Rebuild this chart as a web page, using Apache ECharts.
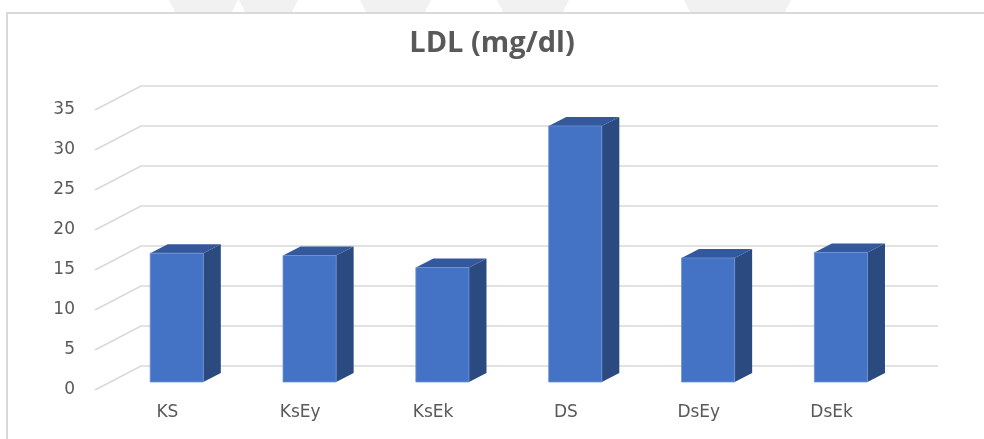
<!DOCTYPE html>
<html>
<head>
<meta charset="utf-8">
<script src="https://cdn.jsdelivr.net/npm/echarts@6/dist/echarts.min.js"></script>
<style>
  html, body { margin: 0; padding: 0; background: #ffffff; }
  #chart { width: 984px; height: 439px; }
</style>
</head>
<body>
<div id="chart"></div>
<script>
// LDL (mg/dl) by group
const categories = ['KS', 'KsEy', 'KsEk', 'DS', 'DsEy', 'DsEk'];
const ldlValues = [16.1, 15.8, 14.3, 32.0, 15.5, 16.2];
const yTicks = [0, 5, 10, 15, 20, 25, 30, 35];

// Pseudo-3D geometry (pixels): floor depth vector and bar placement within it
const DEPTH = [46, -24];          // front plane -> back wall
const BAR_PLANE = 1 / 3;          // bar front faces sit a third of the way back
const BAR_DEPTH = [17.5, -9];     // thickness of each bar
const BAR_RATIO = 0.4;            // bar width relative to category band

const COLORS = {
  front: '#4472c4',
  top: '#34589c',
  side: '#2a4a80',
  edge: '#6d92d6',
  grid: '#d9d9d9',
  text: '#595959'
};

function renderWall(params, api) {
  const cs = params.coordSys;
  const y = api.coord([0, api.value(1)])[1];
  const x0 = cs.x;
  const x1 = cs.x + cs.width;
  return {
    type: 'polyline',
    shape: {
      points: [
        [x0, y],
        [x0 + DEPTH[0], y + DEPTH[1]],
        [x1 + DEPTH[0], y + DEPTH[1]]
      ]
    },
    style: { stroke: COLORS.grid, lineWidth: 1.6, fill: null }
  };
}

function renderBar(params, api) {
  const idx = api.value(0);
  const val = api.value(1);
  const base = api.coord([idx, 0]);
  const top = api.coord([idx, val]);
  const band = api.size([1, 0])[0];
  const w = band * BAR_RATIO;
  const ox = DEPTH[0] * BAR_PLANE;
  const oy = DEPTH[1] * BAR_PLANE;
  const xl = base[0] + ox - w / 2;
  const xr = base[0] + ox + w / 2;
  const yb = base[1] + oy;
  const yt = top[1] + oy;
  const dx = BAR_DEPTH[0], dy = BAR_DEPTH[1];
  return {
    type: 'group',
    children: [
      {
        type: 'polygon',
        shape: { points: [[xr, yb], [xr + dx, yb + dy], [xr + dx, yt + dy], [xr, yt]] },
        style: { fill: COLORS.side }
      },
      {
        type: 'polygon',
        shape: { points: [[xl, yt], [xr, yt], [xr + dx, yt + dy], [xl + dx, yt + dy]] },
        style: { fill: COLORS.top }
      },
      {
        type: 'rect',
        shape: { x: xl, y: yt, width: xr - xl, height: yb - yt },
        style: { fill: COLORS.front, stroke: COLORS.edge, lineWidth: 0.8 }
      }
    ]
  };
}

// Faint shapes along the upper edge of the page
const topShapes = [[175, 232], [245, 292], [366, 425], [503, 563], [690, 785]].map(function (s) {
  return {
    type: 'polygon',
    shape: { points: [[s[0] - 6, 0], [s[1] + 6, 0], [s[1], 12], [s[0], 12]] },
    style: { fill: '#f1f1f1' },
    silent: true,
    z: 0
  };
});

const chart = echarts.init(document.getElementById('chart'), null, { renderer: 'canvas' });

chart.setOption({
  backgroundColor: '#ffffff',
  animation: false,
  title: {
    text: 'LDL (mg/dl)',
    left: 'center',
    top: 24,
    textStyle: {
      fontFamily: 'Open Sans',
      fontSize: 29,
      fontWeight: 'bold',
      color: COLORS.text
    }
  },
  graphic: topShapes.concat([
    {
      type: 'rect',
      shape: { x: 7, y: 13, width: 1000, height: 460 },
      style: { fill: null, stroke: '#d9d9d9', lineWidth: 2 },
      silent: true,
      z: 1
    }
  ]),
  grid: { left: 95, right: 92, top: 110, bottom: 49 },
  xAxis: {
    type: 'category',
    data: categories,
    axisLine: { show: false },
    axisTick: { show: false },
    axisLabel: {
      color: COLORS.text,
      fontFamily: 'DejaVu Sans',
      fontSize: 17,
      margin: 14,
      padding: [0, 0, 0, 12]
    }
  },
  yAxis: {
    type: 'value',
    min: 0,
    max: 35,
    interval: 5,
    axisLine: { show: false },
    axisTick: { show: false },
    splitLine: { show: false },
    axisLabel: {
      color: COLORS.text,
      fontFamily: 'DejaVu Sans',
      fontSize: 17,
      margin: 20
    }
  },
  series: [
    {
      type: 'custom',
      name: 'grid',
      renderItem: renderWall,
      data: yTicks.map(function (t) { return [0, t]; }),
      encode: { x: 0, y: 1 },
      silent: true,
      z: 1
    },
    {
      type: 'custom',
      name: 'LDL',
      renderItem: renderBar,
      data: ldlValues.map(function (v, i) { return [i, v]; }),
      encode: { x: 0, y: 1 },
      z: 2
    }
  ]
});
</script>
</body>
</html>
